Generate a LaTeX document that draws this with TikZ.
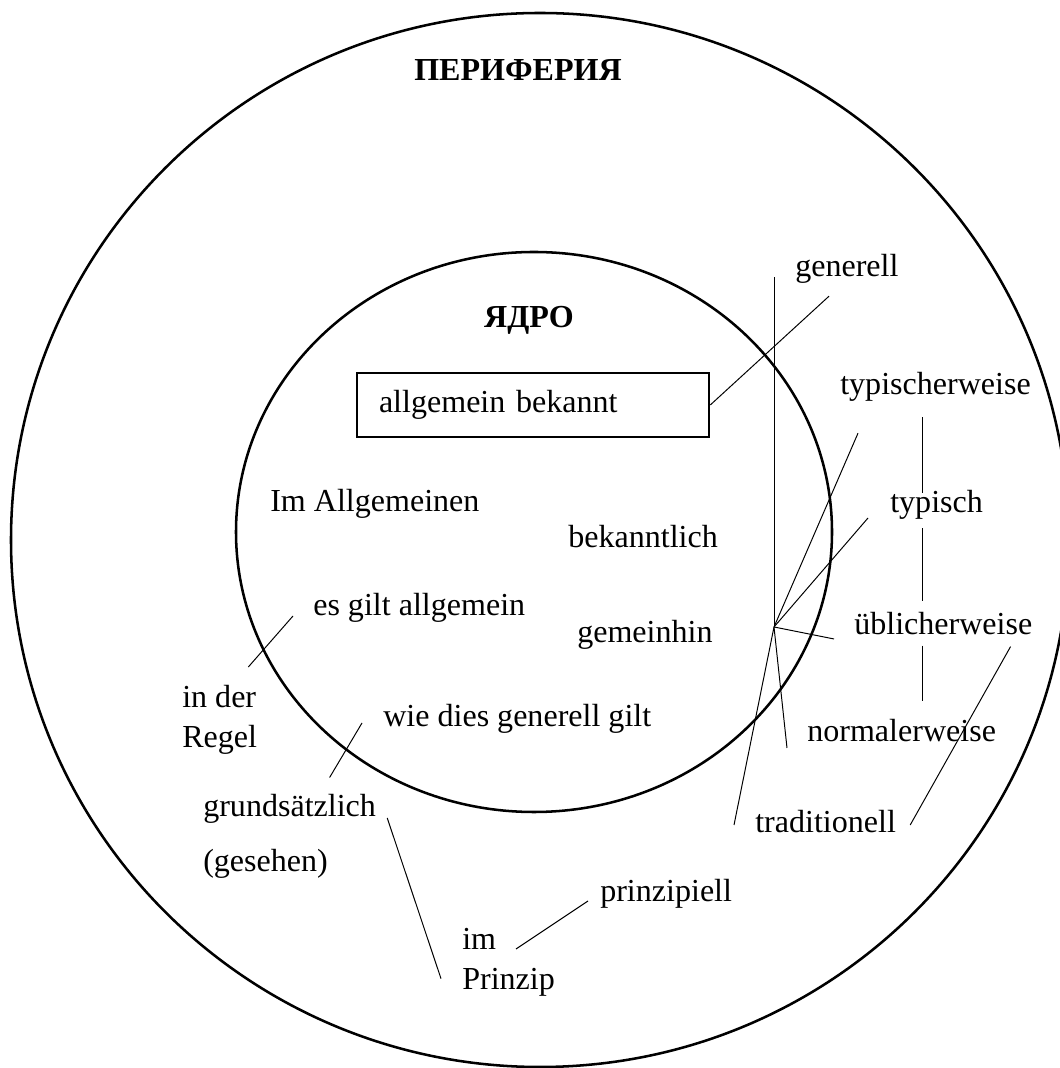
\documentclass[tikz,border=0pt]{standalone}
\usepackage{fontspec}
\setmainfont{Liberation Serif}
\usepackage{tikz}
\usetikzlibrary{calc}

\begin{document}
\begin{tikzpicture}[
  every node/.style={font=\fontsize{22.8}{28.5}\selectfont},
  ring/.style={line width=1.8pt},
  kasten/.style={rectangle, draw, line width=1.8pt, minimum width=8.8cm, minimum height=1.6cm,
                 text width=7.7cm, align=left},
  wort/.style={anchor=base west, inner sep=0pt},
  zeilen/.style={anchor=north west, inner sep=0pt, align=left},
  titel/.style={anchor=base, inner sep=0pt, font=\fontsize{22.8}{28.5}\selectfont\bfseries},
  strich/.style={line width=0.7pt}
]
  \useasboundingbox (0,0) rectangle (26.5,26.7);
  \draw[ring] (13.5,13.2) ellipse (13.225 and 13.175);
  \draw[ring] (13.35,13.4) ellipse (7.45 and 7.0);

  \node[titel] (peri) at (12.95,24.675) {ПЕРИФЕРИЯ};
  \node[titel] (kern) at (13.225,18.5) {ЯДРО};
  \node[kasten] (box) at (13.325,16.575) {allgemein bekannt};

  \node[wort] (imallg) at (6.75,13.9) {Im Allgemeinen};
  \node[wort] (bek) at (14.2,13.0) {bekanntlich};
  \node[wort] (gem) at (14.425,10.625) {gemeinhin};
  \node[wort] (esg) at (7.825,11.3) {es gilt allgemein};
  \node[wort] (wie) at (9.575,8.525) {wie dies generell gilt};

  \node[wort] (gen) at (19.875,19.775) {generell};
  \node[wort] (typw) at (21.0,16.825) {typischerweise};
  \node[wort] (typ) at (22.25,13.875) {typisch};
  \node[wort] (ubl) at (21.35,10.825) {üblicherweise};
  \node[wort] (norm) at (20.175,8.15) {normalerweise};
  \node[wort] (trad) at (18.875,5.875) {traditionell};
  \node[zeilen] (regel) at (4.55,9.575) {in der\\Regel};
  \node[wort] (grund) at (5.075,6.275) {grundsätzlich};
  \node[wort] (ges) at (5.075,4.9) {(gesehen)};
  \node[zeilen] (impr) at (11.55,3.5) {im\\Prinzip};
  \node[wort] (prin) at (15.0,4.15) {prinzipiell};

  \coordinate (hub) at (19.35,11.025);
  \coordinate (spine) at (23.05,0);

  \draw[strich] (box.east) -- ([xshift=8.5mm,yshift=-3mm]gen.south west);
  \draw[strich] (hub) -- (hub |- gen.base);
  \draw[strich] (hub) -- ([xshift=4.5mm,yshift=-7.75mm]typw.south west);
  \draw[strich] (hub) -- ([xshift=-5.5mm,yshift=-1.25mm]typ.base west);
  \draw[strich] (hub) -- ([xshift=-5mm,yshift=-1mm]ubl.base west);
  \draw[strich] (hub) -- ([xshift=-5mm,yshift=-1.5mm]norm.base west);
  \draw[strich] (hub) -- ([xshift=-5.25mm,yshift=2mm]trad.base west);

  \draw[strich, shorten <=3.75mm, shorten >=-0.75mm] (typw.south -| spine) -- (typ.north -| spine);
  \draw[strich, shorten <=2mm, shorten >=2.75mm] (typ.south -| spine) -- (ubl.north -| spine);
  \draw[strich, shorten <=2.5mm, shorten >=4.5mm] (ubl.south -| spine) -- (norm.north -| spine);
  \draw[strich] ([xshift=-5.5mm,yshift=-2.75mm]ubl.south east) -- ([xshift=3.5mm,yshift=2mm]trad.base east);

  \draw[strich] ([xshift=-5mm]esg.base west) -- ([xshift=-2.25mm,yshift=4.5mm]regel.north east);
  \draw[strich] ([xshift=-5.25mm,yshift=1mm]wie.base west) -- ([xshift=10mm,yshift=4.25mm]grund.north);
  \draw[strich] ([xshift=2.75mm,yshift=-0.25mm]grund.base east) -- ([xshift=-5.25mm,yshift=4.5mm]impr.south west);
  \draw[strich] ([xshift=13.5mm,yshift=-5.25mm]impr.north west) -- ([xshift=-3mm,yshift=0.25mm]prin.base west);
\end{tikzpicture}
\end{document}
